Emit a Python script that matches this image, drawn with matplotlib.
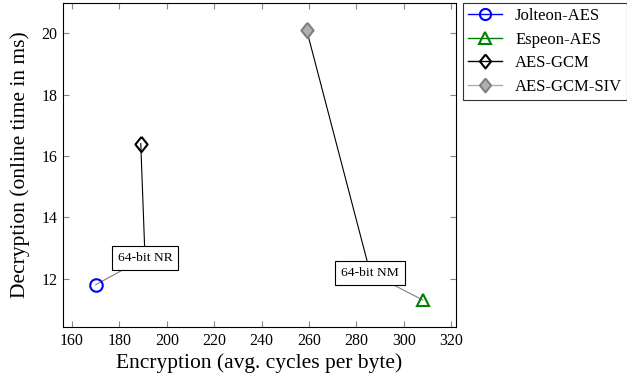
import matplotlib
matplotlib.use("Agg")
import matplotlib.pyplot as plt
from matplotlib.lines import Line2D

plt.rcParams['font.family'] = ['Liberation Serif', 'DejaVu Serif']

# pgfplots-style diamond, a little taller than wide
diamond = [(0, 1), (0.8, 0), (0, -1), (-0.8, 0), (0, 1)]

# data
schemes = ['Jolteon-AES', 'Espeon-AES', 'AES-GCM', 'AES-GCM-SIV']
enc_cycles = [170, 308, 189, 259]
dec_ms = [11.8, 11.3, 16.4, 20.1]
colors = ['#0000ff', '#008000', '#000000', '#808080']
markers = ['o', '^', diamond, diamond]
sizes = [9, 9, 11, 11]
fills = ['none', 'none', 'none', '#b0b0b0']

# annotation boxes: label, position, (ours, baseline) indices
notes = ['64-bit NR', '64-bit NM']
note_pos = [(190.8, 12.68), (285.8, 12.19)]
note_pairs = [(0, 2), (1, 3)]

fig = plt.figure(figsize=(6.27, 3.83), dpi=100)
ax = fig.add_axes([0.1005, 0.146, 0.626, 0.846])

for i in range(len(schemes)):
    ax.plot(enc_cycles[i], dec_ms[i], linestyle='none', marker=markers[i],
            markersize=sizes[i], markerfacecolor=fills[i],
            markeredgecolor=colors[i], markeredgewidth=1.5, zorder=4)

for label, (nx, ny), (a, b) in zip(notes, note_pos, note_pairs):
    ax.plot([nx, enc_cycles[b]], [ny, dec_ms[b]], color='black', lw=0.8, zorder=2)
    ax.plot([nx, enc_cycles[a]], [ny, dec_ms[a]], color='gray', lw=0.8, zorder=2)
    ax.text(nx, ny, label, ha='center', va='center', fontsize=9.7, zorder=3,
            bbox=dict(boxstyle='square,pad=0.45', fc='white', ec='black', lw=0.8))

ax.set_xlim(156.2, 321.8)
ax.set_ylim(10.42, 20.98)
ax.set_xticks(range(160, 321, 20))
ax.set_yticks(range(12, 21, 2))
ax.tick_params(direction='in', top=True, right=True, labelsize=11.5, length=4,
               color='#888888', pad=4)
for s in ax.spines.values():
    s.set_linewidth(0.8)
ax.set_xlabel('Encryption (avg. cycles per byte)', fontsize=15.5, labelpad=3)
ax.set_ylabel('Decryption (online time in ms)', fontsize=15.5, labelpad=8)

handles = [Line2D([0], [0], color=colors[i] if i < 3 else '#b0b0b0', lw=1.0,
                  marker=markers[i], markersize=sizes[i] - 1, markerfacecolor=fills[i],
                  markeredgecolor=colors[i], markeredgewidth=1.5)
           for i in range(len(schemes))]
leg = ax.legend(handles, schemes, loc='upper left', bbox_to_anchor=(1.02, 1.0),
                fontsize=12, frameon=True, fancybox=False, edgecolor='black',
                borderaxespad=0, handlelength=2.0, handletextpad=0.8,
                labelspacing=0.45, borderpad=0.3)
leg.get_frame().set_linewidth(0.8)

fig.savefig('out.png', dpi=100)
